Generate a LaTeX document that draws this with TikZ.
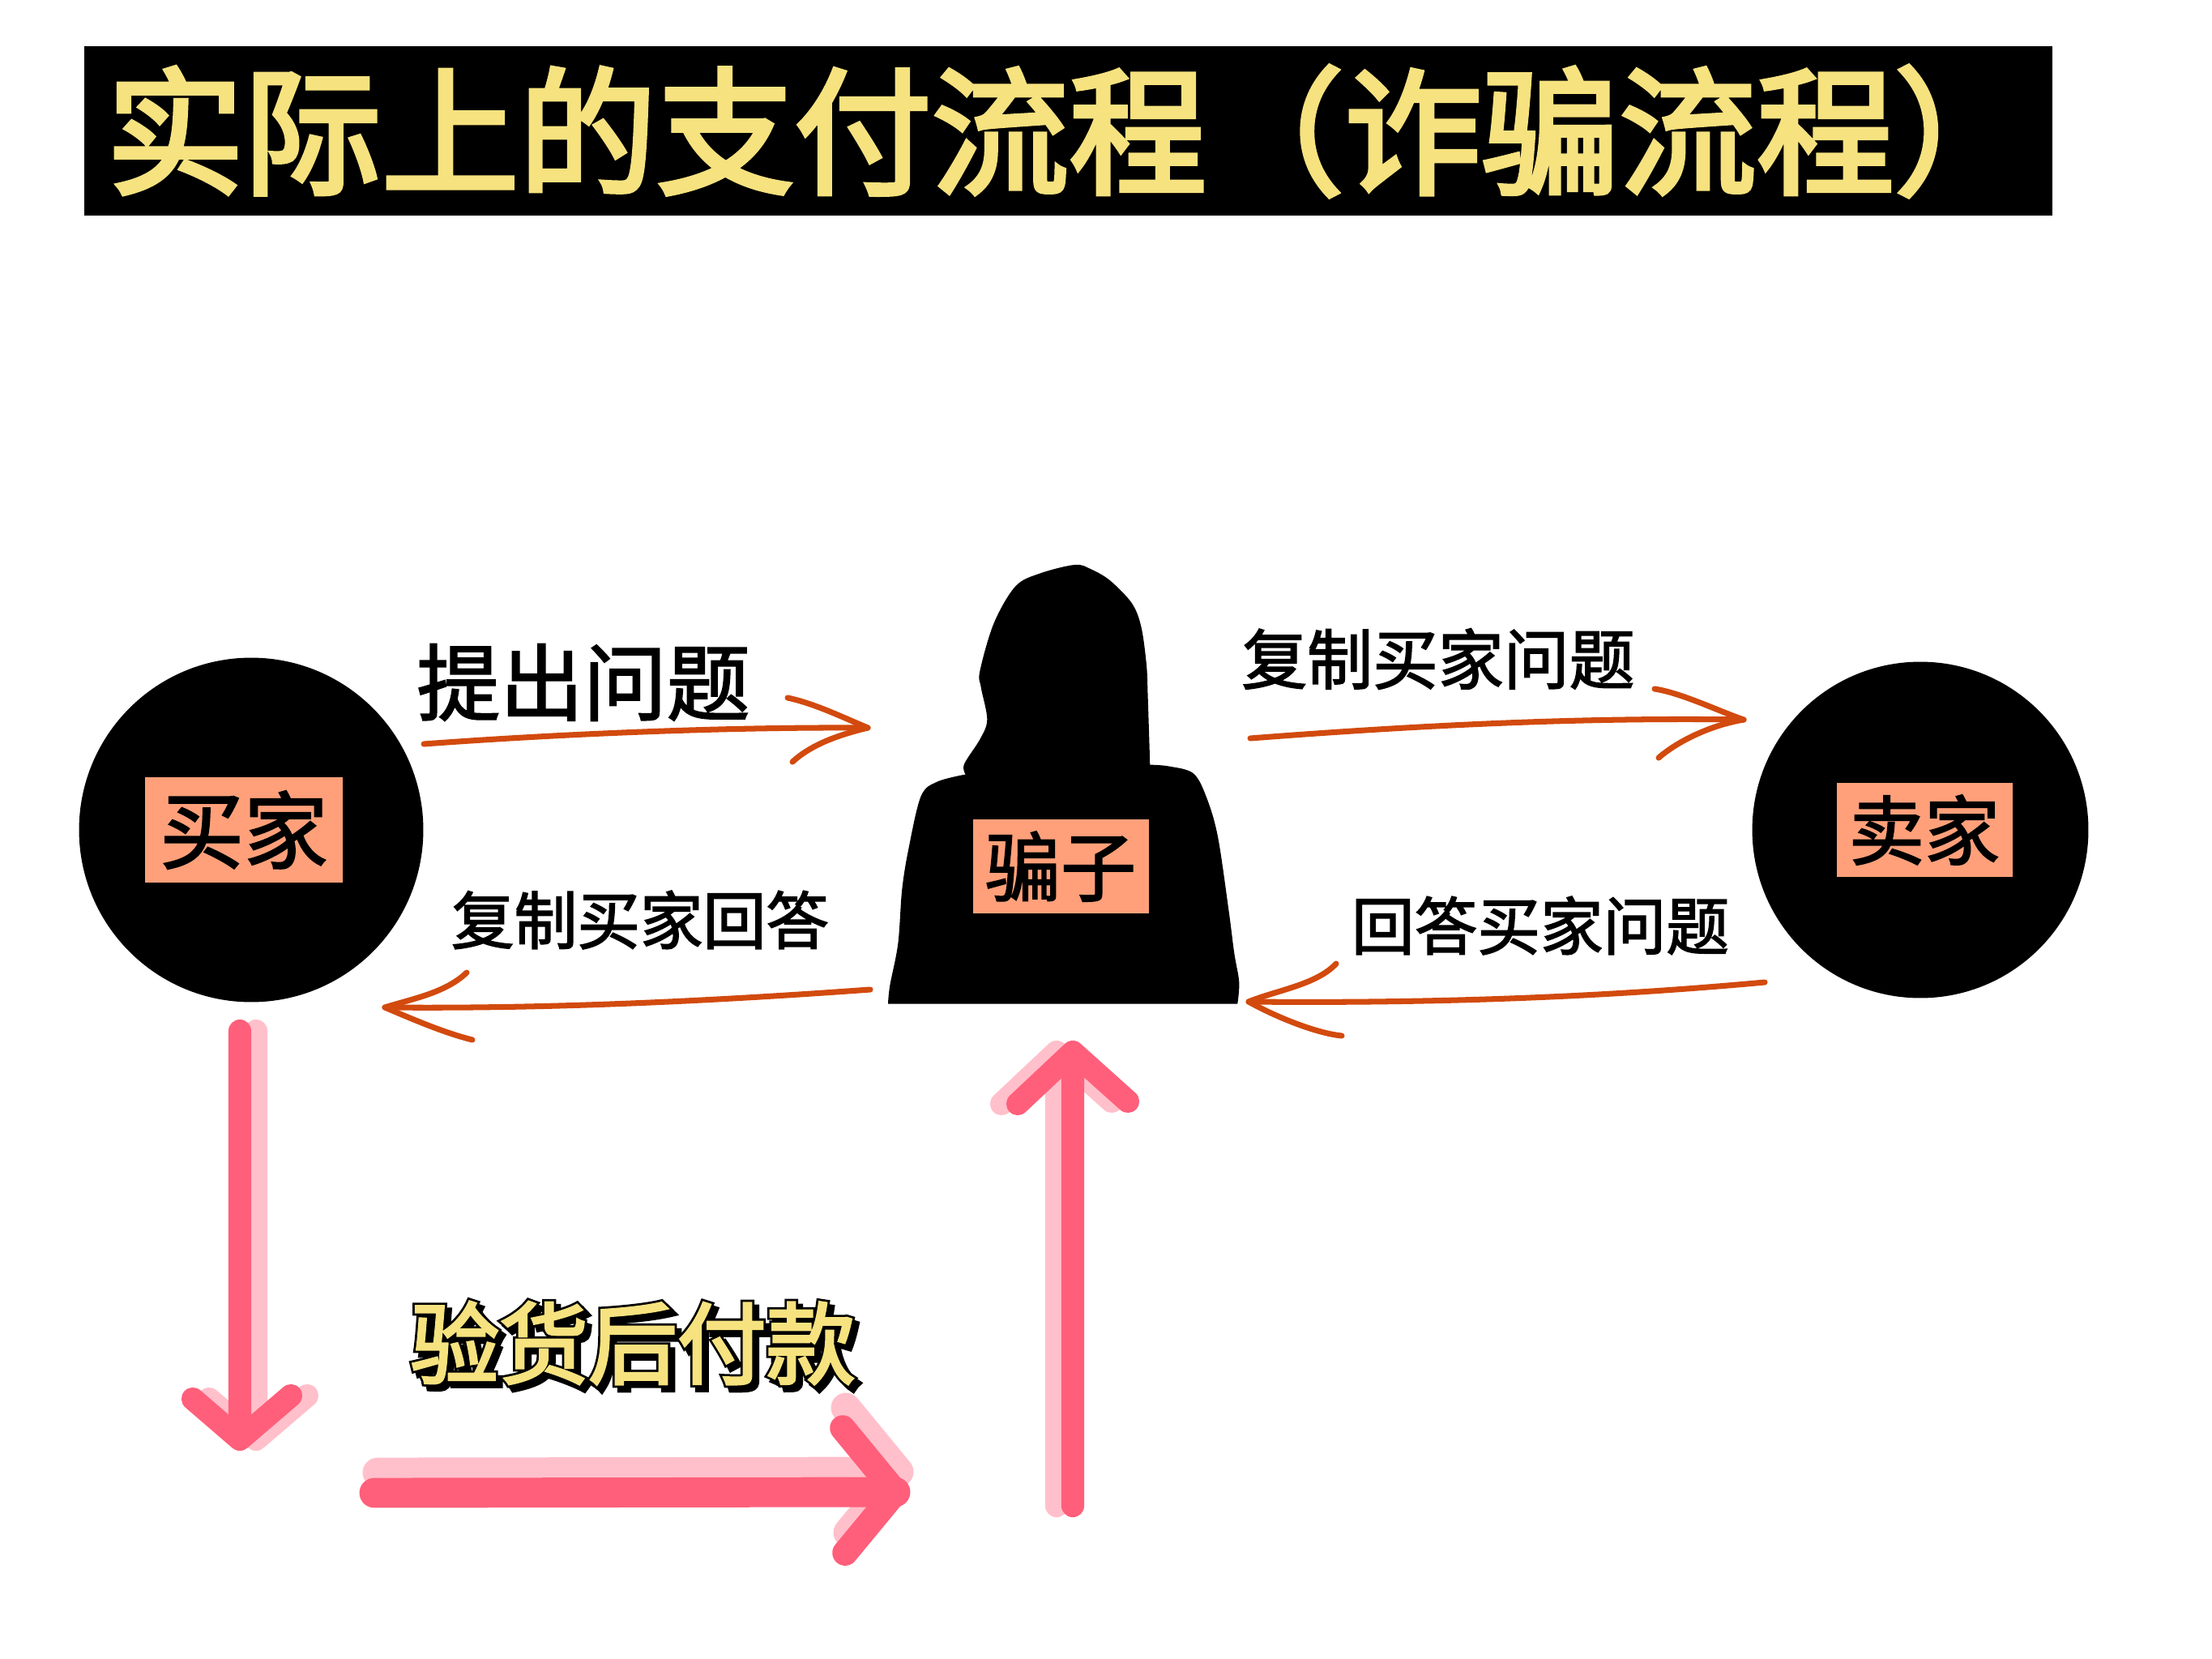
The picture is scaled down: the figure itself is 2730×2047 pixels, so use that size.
\documentclass[tikz,border=0pt]{standalone}
\usepackage{fontspec}
\newfontfamily\cjk[FakeBold=2]{Noto Sans CJK SC}
\newfontfamily\cjktitle[FakeBold=3.2]{Noto Sans CJK SC}
\newfontfamily\cjkpay[FakeBold=3]{Noto Sans CJK SC}
\newfontfamily\cjkfat[FakeBold=8]{Noto Sans CJK SC}
\definecolor{titleyellow}{HTML}{F6E27F}
\definecolor{salmon}{HTML}{FFA07A}
\definecolor{orangeline}{HTML}{D24A0E}
\definecolor{pinkdark}{HTML}{FF5F7A}
\definecolor{pinklight}{HTML}{FFC0CB}
\tikzset{
  party/.style={circle,fill=black,inner sep=0},
  rolelabel/.style={rectangle,fill=salmon,inner sep=0,text=black},
  caption/.style={inner sep=0,text=black},
  handline/.style={draw=orangeline,line width=4pt,line cap=round,line join=round},
  heavy/.style={line cap=round,line join=round},
}
\begin{document}
\begin{tikzpicture}[x=0.02cm,y=-0.02cm]
\useasboundingbox[fill=white] (0,0) rectangle (2730,2047);
% title
\node[fill=black,minimum width=48.58cm,minimum height=4.18cm,inner sep=0] (titlebar) at (1318.5,161.5) {};
\node[anchor=west,inner sep=0,text=titleyellow] (title) at (131,162) {\cjktitle\fontsize{96.6pt}{100pt}\selectfont 实际上的支付流程（诈骗流程）};
% parties
\node[party,minimum size=8.5cm] (buyer) at (310,1024) {};
\node[party,minimum size=8.3cm] (seller) at (2370,1024) {};
\node[rolelabel,minimum width=4.88cm,minimum height=2.6cm] (buyerlabel) at (301,1024) {\cjk\fontsize{59pt}{60pt}\selectfont 买家};
\node[rolelabel,minimum width=4.34cm,minimum height=2.32cm] (sellerlabel) at (2375,1024) {\cjk\fontsize{53pt}{54pt}\selectfont 卖家};
% silhouette
\begin{scope}[shift={(1050,670)},xscale=0.3333,yscale=0.3954]
\fill[black] plot[smooth,tension=0.55] coordinates {(425,722)(420,690)(480,610)(505,550)(482,450)(478,400)(530,250)(610,135)(700,95)(830,68)(890,82)(960,117)(1040,187)(1075,260)(1095,380)(1100,480)(1108,692)}
  -- plot[smooth,tension=0.55] coordinates {(1108,692)(1180,697)(1270,720)(1320,800)(1360,920)(1400,1150)(1420,1280)(1438,1370)(1432,1438)}
  -- plot[smooth,tension=0.55] coordinates {(138,1438)(145,1380)(175,1250)(190,1080)(215,950)(260,790)(320,745)(425,722)} -- cycle;
\end{scope}
\node[rolelabel,minimum width=4.34cm,minimum height=2.32cm] (scammerlabel) at (1309,1069) {\cjk\fontsize{53pt}{54pt}\selectfont 骗子};
% captions
\node[caption] (ask) at (720,842) {\cjk\fontsize{58.5pt}{60pt}\selectfont 提出问题};
\node[caption] (copyq) at (1775,813) {\cjk\fontsize{46pt}{48pt}\selectfont 复制买家问题};
\node[caption] (copya) at (790,1135) {\cjk\fontsize{44.2pt}{46pt}\selectfont 复制买家回答};
\node[caption] (answer) at (1901,1142) {\cjk\fontsize{44.2pt}{46pt}\selectfont 回答买家问题};
% hand drawn connectors
\coordinate (a1s) at (523,918); \coordinate (a1e) at (1071,898); \coordinate (a1u) at (972,861); \coordinate (a1d) at (978,940);
\coordinate (a2s) at (1543,911); \coordinate (a2e) at (2152,888); \coordinate (a2u) at (2042,850); \coordinate (a2d) at (2047,935);
\coordinate (a3s) at (1074,1221); \coordinate (a3e) at (475,1243); \coordinate (a3u) at (576,1200); \coordinate (a3d) at (583,1283);
\coordinate (a4s) at (2178,1212); \coordinate (a4e) at (1541,1236); \coordinate (a4u) at (1649,1189); \coordinate (a4d) at (1656,1278);
\draw[handline] (a1s) .. controls (700,905) and (900,897) .. (a1e);
\draw[handline] (a1u) .. controls (1005,868) and (1040,885) .. (a1e) .. controls (1030,908) and (1000,920) .. (a1d);
\draw[handline] (a2s) .. controls (1750,895) and (1950,885) .. (a2e);
\draw[handline] (a2u) .. controls (2075,855) and (2120,877) .. (a2e) .. controls (2110,895) and (2070,915) .. (a2d);
\draw[handline] (a3s) .. controls (880,1235) and (680,1245) .. (a3e);
\draw[handline] (a3u) .. controls (550,1225) and (510,1232) .. (a3e) .. controls (510,1258) and (550,1275) .. (a3d);
\draw[handline] (a4s) .. controls (1960,1232) and (1750,1238) .. (a4e);
\draw[handline] (a4u) .. controls (1625,1215) and (1575,1222) .. (a4e) .. controls (1575,1255) and (1625,1275) .. (a4d);
% payment arrows
\coordinate (d1s) at (296,1272); \coordinate (d1e) at (296,1776); \coordinate (d1l) at (238,1726); \coordinate (d1r) at (359,1722);
\coordinate (d2s) at (462,1842); \coordinate (d2e) at (1105,1841); \coordinate (d2l) at (1040,1762); \coordinate (d2r) at (1043,1916);
\coordinate (d3s) at (1324,1858); \coordinate (d3e) at (1324,1298); \coordinate (d3l) at (1256,1362); \coordinate (d3r) at (1392,1359);
\draw[heavy,draw=pinklight,line width=16pt,transform canvas={xshift=0.4cm}] (d1s) -- (d1e) (d1l) -- (d1e) -- (d1r);
\draw[heavy,draw=pinkdark,line width=16pt] (d1s) -- (d1e) (d1l) -- (d1e) -- (d1r);
\draw[heavy,draw=pinklight,line width=21pt,transform canvas={yshift=0.5cm,xshift=0.08cm}] (d2s) -- (d2e) (d2l) -- (d2e) -- (d2r);
\draw[heavy,draw=pinkdark,line width=21pt] (d2s) -- (d2e);
\draw[heavy,draw=pinkdark,line width=18pt] (d2l) -- (d2e) -- (d2r);
\draw[heavy,draw=pinklight,line width=16pt,transform canvas={xshift=-0.4cm}] (d3s) -- (d3e) (d3l) -- (d3e) -- (d3r);
\draw[heavy,draw=pinkdark,line width=16pt] (d3s) -- (d3e) (d3l) -- (d3e) -- (d3r);
% check-then-pay label
\node[inner sep=0,text=black] (payshadow) at (787,1663) {\cjkfat\fontsize{62.5pt}{66pt}\selectfont 验货后付款};
\node[inner sep=0,text=black] (payoutline) at (781,1657) {\cjkfat\fontsize{62.5pt}{66pt}\selectfont 验货后付款};
\node[inner sep=0,text=titleyellow] (pay) at (781,1657) {\cjkpay\fontsize{62.5pt}{66pt}\selectfont 验货后付款};
\end{tikzpicture}
\end{document}
